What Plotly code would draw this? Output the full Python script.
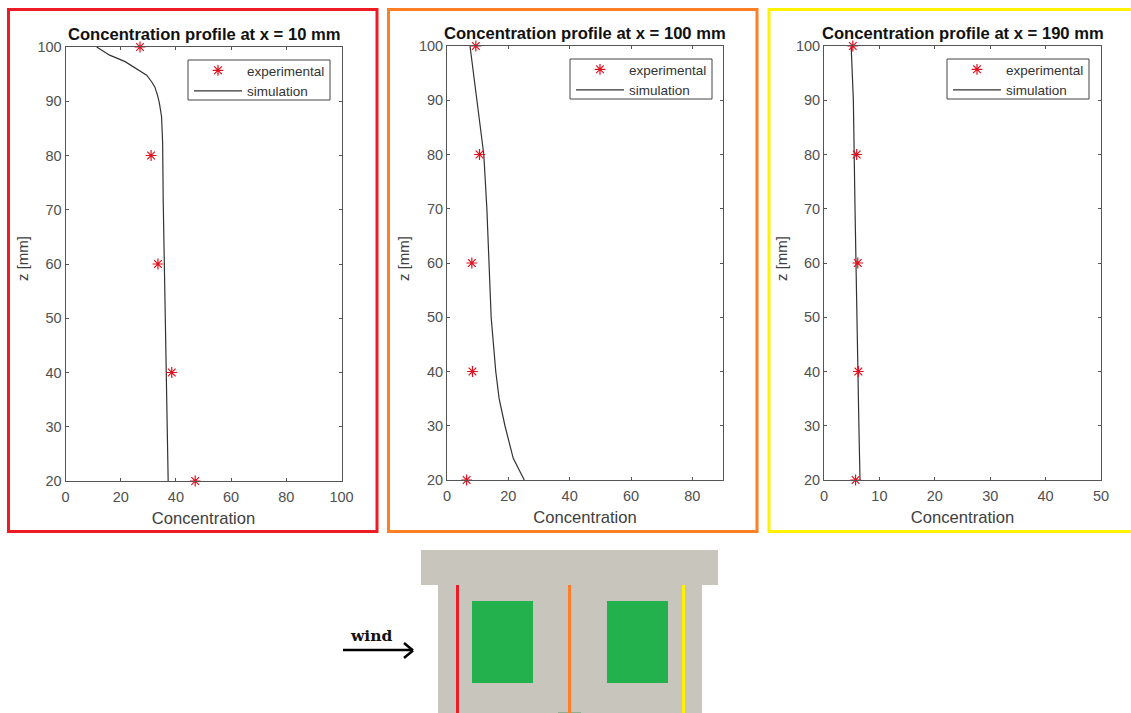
import plotly.graph_objects as go

W, H = 1131, 713

panel_titles = ["Concentration profile at x = 10 mm", "Concentration profile at x = 100 mm", "Concentration profile at x = 190 mm"]
exp_z = [100, 80, 60, 40, 20]
exp_c1 = [27, 31, 33.5, 38.5, 47]
exp_c2 = [9.4, 10.6, 8.1, 8.3, 6.4]
exp_c3 = [5.2, 5.9, 6.1, 6.2, 5.7]

sim_z1 = [100, 98.5, 97.3, 96, 94.8, 93.6, 92.6, 91, 89.7, 87.2, 82.3, 71.8, 60, 50, 40, 30, 20]
sim_c1 = [11.3, 16, 21.6, 25.8, 29.4, 31.2, 32.4, 33.4, 34, 34.8, 35.2, 35.4, 35.8, 36.1, 36.4, 36.8, 37.2]
sim_z2 = [100, 90, 80, 70, 60, 50, 40, 35, 30, 27, 24, 20]
sim_c2 = [7.5, 9.8, 12, 13, 13.7, 14.4, 15.9, 17, 18.9, 20.2, 21.6, 25.2]
sim_z3 = [100, 90, 70, 50, 30, 20]
sim_c3 = [4.9, 5.3, 5.6, 5.9, 6.3, 6.5]

x_ranges = [[0, 100], [0, 90], [0, 50]]
x_ticks = [[0, 20, 40, 60, 80, 100], [0, 20, 40, 60, 80], [0, 10, 20, 30, 40, 50]]
z_ticks = [20, 30, 40, 50, 60, 70, 80, 90, 100]

RED, ORANGE, YELLOW = "#ed1c24", "#ff7f27", "#fff200"
GRAY, GREEN = "#c8c5bd", "#22b14c"
AX = "#555555"
FONT = "Liberation Sans"

# pixel layout
axes_px = [(65.5, 341.5, 47, 481), (447, 723, 46, 480), (824, 1101, 46, 480)]
legend_px = [(188, 60), (570, 59), (947, 59)]
ytitle_px = [22, 403, 781]
frames_px = [(8.5, 377, 9.5, 531.5, RED), (388.5, 757, 9.5, 531.5, ORANGE), (769, 1133, 9.5, 531.5, YELLOW)]


def px(x):
    return x / W


def py(y):
    return 1 - y / H


fig = go.Figure()
exps = [exp_c1, exp_c2, exp_c3]
sims = [(sim_c1, sim_z1), (sim_c2, sim_z2), (sim_c3, sim_z3)]
shapes = []
annotations = []
layout = {}


def rect(x0, x1, y0, y1, fill=None, line=None, lw=0, lay="below"):
    shapes.append(dict(
        type="rect", xref="paper", yref="paper", x0=px(x0), x1=px(x1), y0=py(y0), y1=py(y1),
        fillcolor=fill if fill else "rgba(0,0,0,0)", line=dict(color=line if line else "rgba(0,0,0,0)", width=lw),
        layer=lay))


def seg(x0, y0, x1, y1, color, lw):
    shapes.append(dict(
        type="line", xref="paper", yref="paper", x0=px(x0), x1=px(x1), y0=py(y0), y1=py(y1),
        line=dict(color=color, width=lw), layer="above"))


for i in range(3):
    n = "" if i == 0 else str(i + 1)
    lg = "legend" + n
    fig.add_trace(go.Scatter(
        x=sims[i][0], y=sims[i][1], mode="lines", name="simulation",
        line=dict(color="#333333", width=1.2),
        xaxis="x" + n, yaxis="y" + n, legend=lg))
    fig.add_trace(go.Scatter(
        x=exps[i], y=exp_z, mode="markers", name="experimental",
        marker=dict(symbol="asterisk-open", size=9, color="#e0101f", line=dict(color="#e0101f", width=1.2)),
        cliponaxis=False, xaxis="x" + n, yaxis="y" + n, legend=lg))
    x0, x1, y0, y1 = axes_px[i]
    layout["xaxis" + n] = dict(
        domain=[px(x0), px(x1)], range=x_ranges[i], tickvals=x_ticks[i], ticks="inside", ticklen=3,
        tickcolor=AX, linecolor=AX, linewidth=1, mirror="allticks", showgrid=False, zeroline=False,
        ticklabelstandoff=3,
        tickfont=dict(size=14.5, color="#505050", family=FONT), anchor="y" + n,
        title=dict(text="Concentration", standoff=7, font=dict(size=16.6, color="#404040", family=FONT)))
    layout["yaxis" + n] = dict(
        domain=[py(y1), py(y0)], range=[20, 100], tickvals=z_ticks, ticks="inside", ticklen=3,
        tickcolor=AX, linecolor=AX, linewidth=1, mirror="allticks", showgrid=False, zeroline=False,
        tickfont=dict(size=14.5, color="#505050", family=FONT), anchor="x" + n)
    lx, ly = legend_px[i]
    rect(lx, lx + 142, ly, ly + 40, "white", "#444444", 1, "above")
    layout[lg] = dict(
        x=px(lx + 1), y=py(ly - 5), xanchor="left", yanchor="top", traceorder="reversed",
        bgcolor="rgba(0,0,0,0)", borderwidth=0, itemwidth=48, tracegroupgap=0,
        font=dict(size=13.5, color="#333333", family=FONT))
    annotations.append(dict(
        text="<b>" + panel_titles[i] + "</b>", x=px((x0 + x1) / 2), y=py(y0 - 1), xref="paper", yref="paper",
        xanchor="center", yanchor="bottom", showarrow=False,
        font=dict(size=16.6, color="#111111", family=FONT)))
    annotations.append(dict(
        text="z [mm]", x=px(ytitle_px[i]), y=py(259), xref="paper", yref="paper", textangle=-90,
        xanchor="center", yanchor="middle", showarrow=False,
        font=dict(size=15, color="#404040", family=FONT)))

for fx0, fx1, fy0, fy1, c in frames_px:
    rect(fx0, fx1, fy0, fy1, None, c, 3)

# wind tunnel sketch
rect(421, 718, 550, 585, GRAY)
rect(438, 702, 585, 713, GRAY)
rect(472, 533, 601, 683, GREEN)
rect(607, 668, 601, 683, GREEN)
rect(558, 581, 712, 713, "#8fae8f")
rect(456, 459, 585, 713, RED)
rect(568, 571, 585, 713, ORANGE)
rect(682, 685, 585, 713, YELLOW)

annotations.append(dict(
    text="<b>wind</b>", x=px(371), y=py(635), xref="paper", yref="paper", xanchor="center", yanchor="middle",
    showarrow=False, font=dict(size=15.5, color="#111111", family="DejaVu Serif")))
seg(343, 650, 413, 650, "#000000", 2.5)
seg(404, 643, 413, 650.5, "#000000", 2.5)
seg(404, 658, 413, 650.5, "#000000", 2.5)

fig.update_layout(
    width=W, height=H, autosize=False, margin=dict(l=0, r=0, t=0, b=0, autoexpand=False),
    paper_bgcolor="white", plot_bgcolor="white", showlegend=True,
    shapes=shapes, annotations=annotations, **layout)
fig.write_html("out.html", config={"displayModeBar": False},
               post_script="document.body.style.margin='0';document.documentElement.style.overflow='hidden';")
